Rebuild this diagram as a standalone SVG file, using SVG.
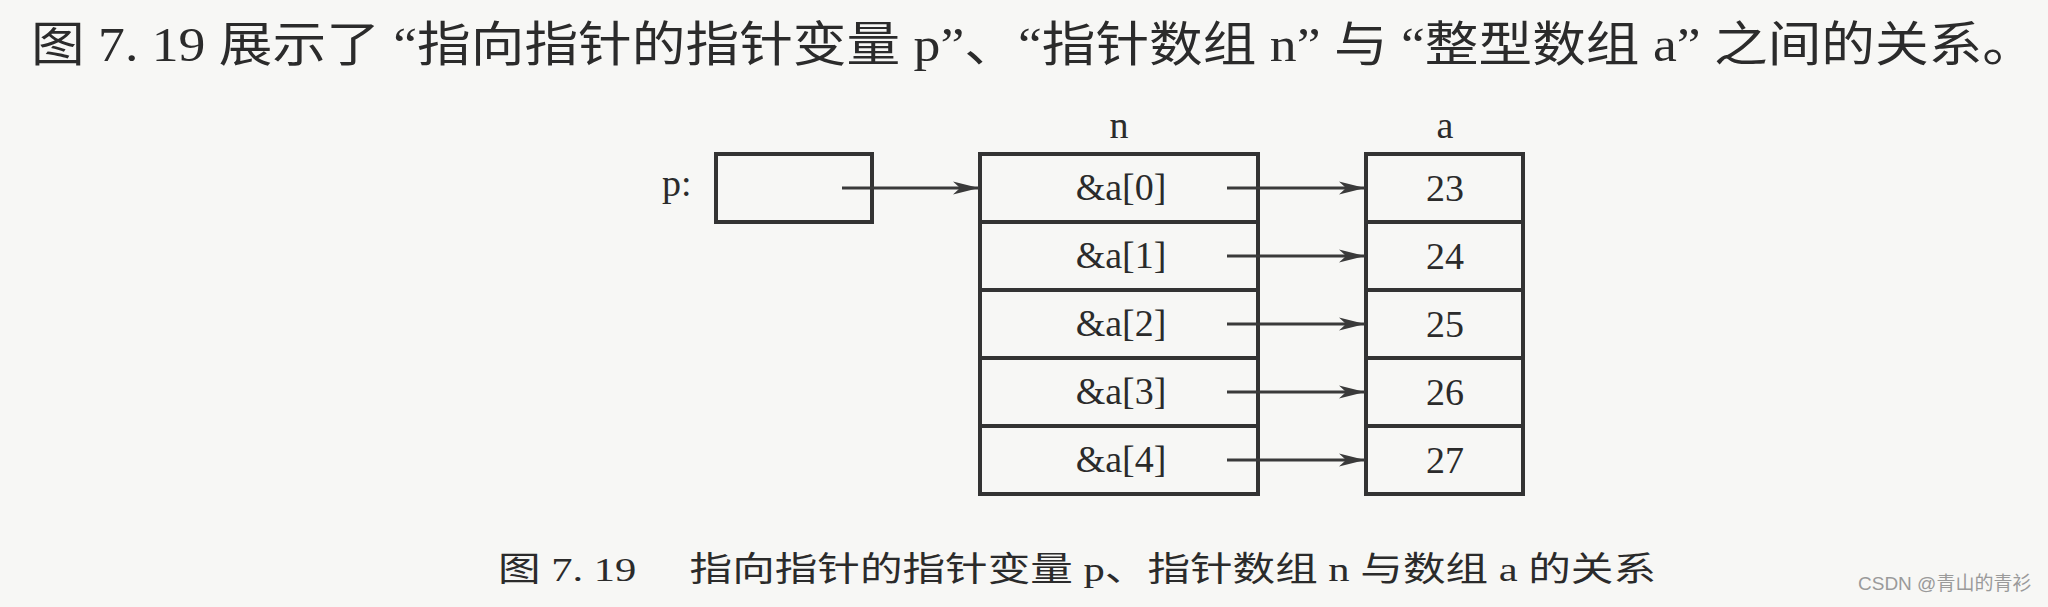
<svg xmlns="http://www.w3.org/2000/svg" width="2048" height="607" viewBox="0 0 2048 607">
  <defs>
    <style>
      .t { font-family: "Liberation Serif", "Noto Sans CJK SC", serif; fill: #2b2b2b; }
      .lbl { font-size: 38px; text-anchor: middle; }
      .box { fill: none; stroke: #333333; stroke-width: 4; }
      .div { stroke: #333333; stroke-width: 4; }
      .conn { stroke: #3a3a3a; stroke-width: 3; fill: none; marker-end: url(#arrow); }
      .wm { font-family: "Liberation Sans", "Noto Sans CJK SC", sans-serif; font-size: 19px; fill: #9a9a9a; }
    </style>
    <marker id="arrow" markerUnits="userSpaceOnUse" markerWidth="28" markerHeight="14" refX="26" refY="7" orient="auto">
      <path d="M0,0.5 L26,7 L0,13.5 L7,7 Z" fill="#3a3a3a"/>
    </marker>
  </defs>
  <rect x="0" y="0" width="2048" height="607" fill="#f7f7f5"/>

  <g id="title">
    <text class="t" x="31" y="61" font-size="48" textLength="2005" lengthAdjust="spacingAndGlyphs">图 7. 19 展示了 “指向指针的指针变量 p”、“指针数组 n” 与 “整型数组 a” 之间的关系。</text>
  </g>

  <g id="node-p">
    <text class="t" x="662" y="196" font-size="38">p:</text>
    <rect class="box" x="716" y="154" width="156" height="68"/>
  </g>

  <g id="node-n">
    <text class="t lbl" x="1119" y="138">n</text>
    <rect class="box" x="980" y="154" width="278" height="340"/>
    <line class="div" x1="980" y1="222" x2="1258" y2="222"/>
    <line class="div" x1="980" y1="290" x2="1258" y2="290"/>
    <line class="div" x1="980" y1="358" x2="1258" y2="358"/>
    <line class="div" x1="980" y1="426" x2="1258" y2="426"/>
    <text class="t lbl" x="1121" y="200">&amp;a[0]</text>
    <text class="t lbl" x="1121" y="268">&amp;a[1]</text>
    <text class="t lbl" x="1121" y="336">&amp;a[2]</text>
    <text class="t lbl" x="1121" y="404">&amp;a[3]</text>
    <text class="t lbl" x="1121" y="472">&amp;a[4]</text>
  </g>

  <g id="node-a">
    <text class="t lbl" x="1445" y="138">a</text>
    <rect class="box" x="1366" y="154" width="157" height="340"/>
    <line class="div" x1="1366" y1="222" x2="1523" y2="222"/>
    <line class="div" x1="1366" y1="290" x2="1523" y2="290"/>
    <line class="div" x1="1366" y1="358" x2="1523" y2="358"/>
    <line class="div" x1="1366" y1="426" x2="1523" y2="426"/>
    <text class="t lbl" x="1445" y="201">23</text>
    <text class="t lbl" x="1445" y="269">24</text>
    <text class="t lbl" x="1445" y="337">25</text>
    <text class="t lbl" x="1445" y="405">26</text>
    <text class="t lbl" x="1445" y="473">27</text>
  </g>

  <g id="connectors">
    <line class="conn" x1="842" y1="188" x2="979" y2="188"/>
    <line class="conn" x1="1227" y1="188" x2="1365" y2="188"/>
    <line class="conn" x1="1227" y1="256" x2="1365" y2="256"/>
    <line class="conn" x1="1227" y1="324" x2="1365" y2="324"/>
    <line class="conn" x1="1227" y1="392" x2="1365" y2="392"/>
    <line class="conn" x1="1227" y1="460" x2="1365" y2="460"/>
  </g>

  <g id="caption">
    <text class="t" x="498" y="581" font-size="34" textLength="1158" lengthAdjust="spacingAndGlyphs">图 7. 19　 指向指针的指针变量 p、指针数组 n 与数组 a 的关系</text>
  </g>

  <g id="watermark">
    <text class="wm" x="1858" y="590">CSDN @青山的青衫</text>
  </g>
</svg>
